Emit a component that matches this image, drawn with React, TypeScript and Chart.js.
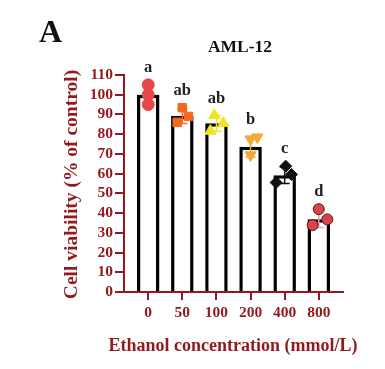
import React, { useEffect, useRef } from "react";
import { Chart, registerables } from "chart.js";

Chart.register(...registerables);

const CATEGORIES = ["0", "50", "100", "200", "400", "800"];
const MEANS = [100, 89.2, 85.5, 73.6, 59.2, 36.9];
const REP_0 = [105, 100, 95];
const REP_50 = [93.4, 89, 86];
const REP_100 = [89.6, 85.6, 81.6];
const REP_200 = [77.4, 78.5, 69.4];
const REP_400 = [63.8, 59.6, 55.5];
const REP_800 = [42, 36.8, 33.9];
const REPLICATES = [REP_0, REP_50, REP_100, REP_200, REP_400, REP_800];
const LETTERS = ["a", "ab", "ab", "b", "c", "d"];
const Y_TICKS_MAX = 110;
const X_TITLE = "Ethanol concentration (mmol/L)";
const Y_TITLE = "Cell viability (% of control)";
const CHART_TITLE = "AML-12";
const PANEL_LABEL = "A";

// rendering styles
const JITTER = [
  [0, 0, 0],
  [0, 0.18, -0.15],
  [-0.06, 0.2, -0.18],
  [0, 0.2, 0],
  [0.03, 0.2, -0.25],
  [0, 0.25, -0.18],
];
const POINT_STYLES = ["circle", "rect", "triangle", "triangle", "rectRot", "circle"];
const POINT_ROT = [0, 0, 0, 180, 0, 0];
const POINT_FILL = ["#E9464B", "#F26A1F", "#F4E31E", "#F2AA35", "#111111", "#D9434C"];
const POINT_BORDER = ["#E9464B", "#F26A1F", "#F4E31E", "#F2AA35", "#111111", "#5A1518"];
const POINT_RADIUS = [6, 6, 6.5, 6.5, 6, 5.5];
const ERR_COLOR = ["#E9464B", "#F26A1F", "#F4E31E", "#F2AA35", "#111111", "#E8A0A0"];
const DARK_RED = "#921A1E";
const FONT = "'Liberation Serif', 'Times New Roman', serif";

export default function App() {
  const ref = useRef<HTMLCanvasElement | null>(null);

  useEffect(() => {
    if (!ref.current) return;

    const scatterSets = REPLICATES.map((reps, i) => ({
      type: "scatter" as const,
      data: reps.map((v, k) => ({ x: i + JITTER[i][k], y: v })),
      pointStyle: POINT_STYLES[i],
      rotation: POINT_ROT[i],
      pointRadius: POINT_RADIUS[i],
      backgroundColor: POINT_FILL[i],
      borderColor: POINT_BORDER[i],
      borderWidth: 1,
      order: 0,
      clip: false as any,
    }));

    const errorPlugin = {
      id: "errbars",
      afterDatasetDraw(chart: any, args: any) {
        if (args.meta.type !== "bar") return;
        const ctx = chart.ctx;
        const x = chart.scales.x;
        const y = chart.scales.y;
        ctx.save();
        REPLICATES.forEach((reps, i) => {
          const m = MEANS[i];
          const sd = Math.sqrt(
            reps.reduce((s, v) => s + (v - m) * (v - m), 0) / (reps.length - 1)
          );
          const px = x.getPixelForValue(i);
          const top = y.getPixelForValue(m + sd);
          const bot = y.getPixelForValue(m - sd);
          ctx.strokeStyle = ERR_COLOR[i];
          ctx.lineWidth = 1.5;
          ctx.beginPath();
          ctx.moveTo(px, top);
          ctx.lineTo(px, bot);
          ctx.moveTo(px - 5, top);
          ctx.lineTo(px + 5, top);
          ctx.moveTo(px - 5, bot);
          ctx.lineTo(px + 5, bot);
          ctx.stroke();
        });
        ctx.restore();
      },
    };

    const textPlugin = {
      id: "texts",
      afterDraw(chart: any) {
        const ctx = chart.ctx;
        const x = chart.scales.x;
        const y = chart.scales.y;
        ctx.save();
        ctx.fillStyle = "#111";
        ctx.textBaseline = "alphabetic";
        ctx.textAlign = "left";
        ctx.font = `bold 32px ${FONT}`;
        ctx.fillText(PANEL_LABEL, 39, 42);
        ctx.textAlign = "center";
        ctx.textBaseline = "middle";
        ctx.font = `bold 17.5px ${FONT}`;
        ctx.fillText(CHART_TITLE, 240, 47);
        ctx.fillStyle = "#222";
        ctx.font = `bold 16.5px ${FONT}`;
        LETTERS.forEach((t, i) => {
          const mx = Math.max(...REPLICATES[i]);
          ctx.fillText(t, x.getPixelForValue(i), y.getPixelForValue(mx) - 17);
        });
        // axis titles
        ctx.fillStyle = DARK_RED;
        ctx.font = `bold 18px ${FONT}`;
        ctx.fillText(X_TITLE, 233, 346);
        ctx.translate(72, (y.top + y.bottom) / 2 + 1);
        ctx.rotate(-Math.PI / 2);
        ctx.font = `bold 19.5px ${FONT}`;
        ctx.fillText(Y_TITLE, 0, 0);
        ctx.restore();
      },
    };

    const chart = new Chart(ref.current, {
      type: "bar",
      data: {
        datasets: [
          ...scatterSets,
          {
            type: "bar" as const,
            data: MEANS.map((v, i) => ({ x: i, y: v })),
            backgroundColor: "#ffffff",
            borderColor: "#000000",
            borderWidth: 3.5,
            barPercentage: 0.66,
            categoryPercentage: 1,
            order: 10,
          } as any,
        ],
      },
      options: {
        responsive: false,
        animation: false,
        layout: { padding: { left: 56, right: 42, top: 75, bottom: 8 } },
        plugins: { legend: { display: false }, tooltip: { enabled: false } },
        scales: {
          x: {
            type: "linear",
            min: -0.71,
            max: 5.71,
            offset: false,
            afterBuildTicks: (s: any) => {
              s.ticks = CATEGORIES.map((_, i) => ({ value: i }));
            },
            afterFit: (s: any) => {
              s.height = 369 - 8 - 292;
            },
            ticks: {
              callback: (v: any) => CATEGORIES[v as number],
              color: DARK_RED,
              font: { family: FONT, size: 15.5, weight: "bold" },
              padding: 4,
              maxRotation: 0,
              autoSkip: false,
            },
            grid: {
              offset: false,
              drawOnChartArea: false,
              drawTicks: true,
              tickLength: 8,
              color: DARK_RED,
              lineWidth: 2,
            },
            border: { display: true, color: DARK_RED, width: 2 },
          },
          y: {
            min: 0,
            max: Y_TICKS_MAX,
            afterFit: (s: any) => {
              s.width = 124 - 56;
            },
            ticks: {
              stepSize: 10,
              autoSkip: false,
              color: DARK_RED,
              font: { family: FONT, size: 15.5, weight: "bold" },
              padding: 2,
            },
            grid: {
              drawOnChartArea: false,
              drawTicks: true,
              tickLength: 9,
              color: DARK_RED,
              lineWidth: 2,
            },
            border: { display: true, color: DARK_RED, width: 2 },
          },
        },
      } as any,
      plugins: [errorPlugin, textPlugin],
    });

    return () => chart.destroy();
  }, []);

  return (
    <div style={{ position: "absolute", left: 0, top: 0, width: 385, height: 369, background: "#fff" }}>
      <canvas ref={ref} width={385} height={369} />
    </div>
  );
}
